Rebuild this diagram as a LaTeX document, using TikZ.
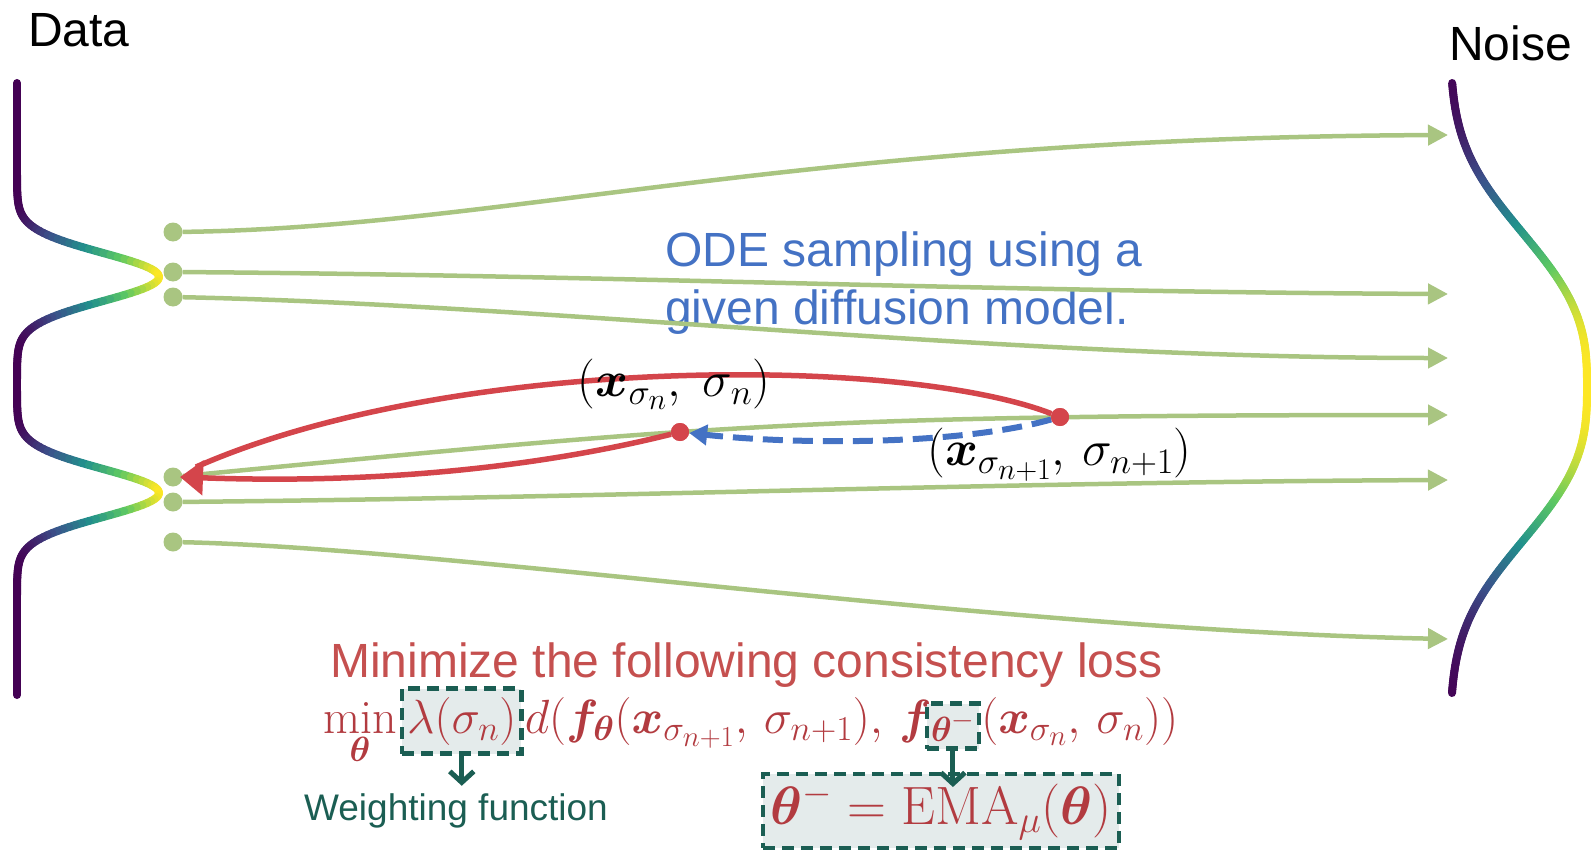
\RequirePackage{fix-cm}
\documentclass[tikz,border=0pt]{standalone}
\usepackage{amsmath,bm}
\usepackage{fontspec}
\setsansfont{Liberation Sans}
\usetikzlibrary{arrows.meta}
\DeclareMathSizes{50}{50}{36}{30}
\DeclareMathSizes{48}{48}{35}{29}
\definecolor{traj}{HTML}{A9C581}
\definecolor{cRed}{HTML}{D4454B}
\definecolor{cBlue}{HTML}{4472C4}
\definecolor{cText}{HTML}{C5504F}
\definecolor{cMath}{HTML}{B23B40}
\definecolor{cTeal}{HTML}{1B5E53}
\definecolor{cFill}{HTML}{E4EBEB}
\definecolor{vir0}{HTML}{440154}
\definecolor{vir1}{HTML}{3B528B}
\definecolor{vir2}{HTML}{21918C}
\definecolor{vir3}{HTML}{5EC962}
\definecolor{vir4}{HTML}{FDE725}
\newcommand\mysetvir[1]{%
 \pgfmathsetmacro\vt{max(0,min(3.999,4*(#1)))}%
 \pgfmathtruncatemacro\vk{\vt}%
 \pgfmathsetmacro\vf{100*(\vt-\vk)}%
 \ifcase\vk\relax
  \colorlet{vc}{vir1!\vf!vir0}%
 \or \colorlet{vc}{vir2!\vf!vir1}%
 \or \colorlet{vc}{vir3!\vf!vir2}%
 \else \colorlet{vc}{vir4!\vf!vir3}%
 \fi}
\tikzset{
 gdot/.style={circle, fill=traj, inner sep=0pt, minimum size=19pt},
 rdot/.style={circle, fill=cRed, inner sep=0pt, minimum size=18pt},
 trajline/.style={draw=traj, line width=4.5pt, -{Triangle[length=20pt,width=20pt]}},
 redarc/.style={draw=cRed, line width=5.5pt},
 bluedash/.style={draw=cBlue, line width=6pt, dash pattern=on 20pt off 10pt},
 tealbox/.style={draw=cTeal, fill=cFill, line width=4.5pt, dash pattern=on 12pt off 7pt, inner sep=0pt},
 tealarrow/.style={draw=cTeal, line width=5pt, -{Straight Barb[length=11pt,width=24pt]}},
 sans/.style={font=\fontsize{48}{58}\selectfont\sffamily, inner sep=0pt, anchor=base west},
 eq/.style={font=\fontsize{48}{56}\selectfont, text=cMath, inner sep=0pt, anchor=base west},
 lab/.style={font=\fontsize{50}{58}\selectfont, inner sep=0pt, anchor=base},
}
\begin{document}
\begin{tikzpicture}[x=1pt,y=-1pt]
\useasboundingbox (0,0) rectangle (1591,851);
% data distribution
\foreach \i in {0,...,305}{%
 \pgfmathsetmacro\ya{83+2*\i}%
 \pgfmathsetmacro\yb{85+2*\i}%
 \pgfmathsetmacro\ua{(\ya-277)/24}\pgfmathsetmacro\wa{(\ya-493)/24}%
 \pgfmathsetmacro\ub{(\yb-277)/24}\pgfmathsetmacro\wb{(\yb-493)/24}%
 \pgfmathsetmacro\pa{exp(max(-10,-(\ua)*(\ua)/2))+exp(max(-10,-(\wa)*(\wa)/2))}%
 \pgfmathsetmacro\pb{exp(max(-10,-(\ub)*(\ub)/2))+exp(max(-10,-(\wb)*(\wb)/2))}%
 \pgfmathsetmacro\xa{17+142*\pa}\pgfmathsetmacro\xb{17+142*\pb}%
 \mysetvir{(\pa+\pb)/2}%
 \draw[vc, line width=8pt, line cap=round] (\xa,\ya) -- (\xb,\yb);
}
% noise distribution
\foreach \i in {0,...,304}{%
 \pgfmathsetmacro\ya{83+2*\i}%
 \pgfmathsetmacro\yb{85+2*\i}%
 \pgfmathsetmacro\qa{max(0.001,abs(\ya-387)/181.6)}%
 \pgfmathsetmacro\qb{max(0.001,abs(\yb-387)/181.6)}%
 \pgfmathsetmacro\pa{exp(-(\qa)^2.76)}\pgfmathsetmacro\pb{exp(-(\qb)^2.76)}%
 \pgfmathsetmacro\xa{1450+137*\pa}\pgfmathsetmacro\xb{1450+137*\pb}%
 \mysetvir{(\pa+\pb)/2}%
 \draw[vc, line width=8pt, line cap=round] (\xa,\ya) -- (\xb,\yb);
}
% labels
\node[sans] (data) at (28,47) {Data};
\node[sans] (noise) at (1449,61) {Noise};
\node[sans, text=cBlue] (ode1) at (665,266) {ODE sampling using a};
\node[sans, text=cBlue] (ode2) at (665,324) {given diffusion model.};
% trajectories
\node[gdot] (s1) at (173,232) {};
\node[gdot] (s2) at (173,272) {};
\node[gdot] (s3) at (173,297) {};
\node[gdot] (s4) at (173,477) {};
\node[gdot] (s5) at (173,502) {};
\node[gdot] (s6) at (173,542) {};
\coordinate (e1) at (1448,135);
\coordinate (e2) at (1448,294);
\coordinate (e3) at (1448,358);
\coordinate (e4) at (1448,415);
\coordinate (e5) at (1448,480);
\coordinate (e6) at (1448,639);
\draw[trajline] (s1) .. controls (500,228) and (800,138) .. (e1);
\draw[trajline] (s2) .. controls (600,275) and (1000,292) .. (e2);
\draw[trajline] (s3) .. controls (550,305) and (1000,358) .. (e3);
\draw[trajline] (s4) .. controls (430,452) and (560,440) .. (680,432) .. controls (850,421) and (1000,415) .. (e4);
\draw[trajline] (s5) .. controls (600,498) and (1000,482) .. (e5);
\draw[trajline] (s6) .. controls (450,548) and (1000,630) .. (e6);
% consistency arcs
\node[rdot] (r1) at (680,432) {};
\node[rdot] (r2) at (1060,417) {};
\coordinate (rtip) at (180,477);
\coordinate (rjoin) at (196,467);
\draw[redarc] (r2) .. controls (900,355) and (450,355) .. (rjoin);
\draw[redarc, -{Triangle[length=23pt,width=34pt]}] (r1) .. controls (560,462) and (400,485) .. (rtip);
\draw[bluedash, -{Triangle[length=18pt,width=20pt]}] (r2) .. controls (960,445) and (800,445) .. (r1);
\node[rdot] at (r1) {};
\node[rdot] at (r2) {};
\node[lab] (xn) at (674,396.5) {$(\bm x_{\sigma_n},\;\sigma_n)$};
\node[lab] (xn1) at (1059.5,465.5) {$(\bm x_{\sigma_{n+1}},\,\sigma_{n+1})$};
% loss
\node[sans, text=cText] (minz) at (330,677) {Minimize the following consistency loss};
\node[eq] (l1) at (323,733) {$\displaystyle\min_{\bm\theta}$};
\node[eq, tealbox, inner xsep=5pt, minimum height=65pt] (lam) at ([xshift=3pt]l1.base east) {$\lambda(\sigma_n)$};
\node[eq] (l3) at ([xshift=1pt]lam.base east) {$d(\bm f_{\bm\theta}(\bm x_{\sigma_{n+1}},\,\sigma_{n+1}),\,\bm f$};
\node[eq, tealbox, inner xsep=4pt, minimum height=45pt] (thm) at ([xshift=-7pt,yshift=-8pt]l3.base east) {$\scriptstyle\bm\theta^-$};
\node[eq] (l5) at ([yshift=8pt]thm.base east) {$(\bm x_{\sigma_n},\,\sigma_n))$};
\node[tealbox, minimum width=356pt, minimum height=74pt, font=\fontsize{54}{60}\selectfont, text=cMath] (ema) at (941,811)
 {$\bm\theta^- = \mathrm{EMA}_\mu(\bm\theta)$};
\node[font=\fontsize{37}{44}\selectfont\sffamily, text=cTeal, anchor=base, inner sep=0pt] (wf) at (456,820) {Weighting function};
\draw[tealarrow] (lam.south) -- ++(0,30);
\draw[tealarrow] (thm.south) -- (thm.south |- 0,787);
\end{tikzpicture}
\end{document}
